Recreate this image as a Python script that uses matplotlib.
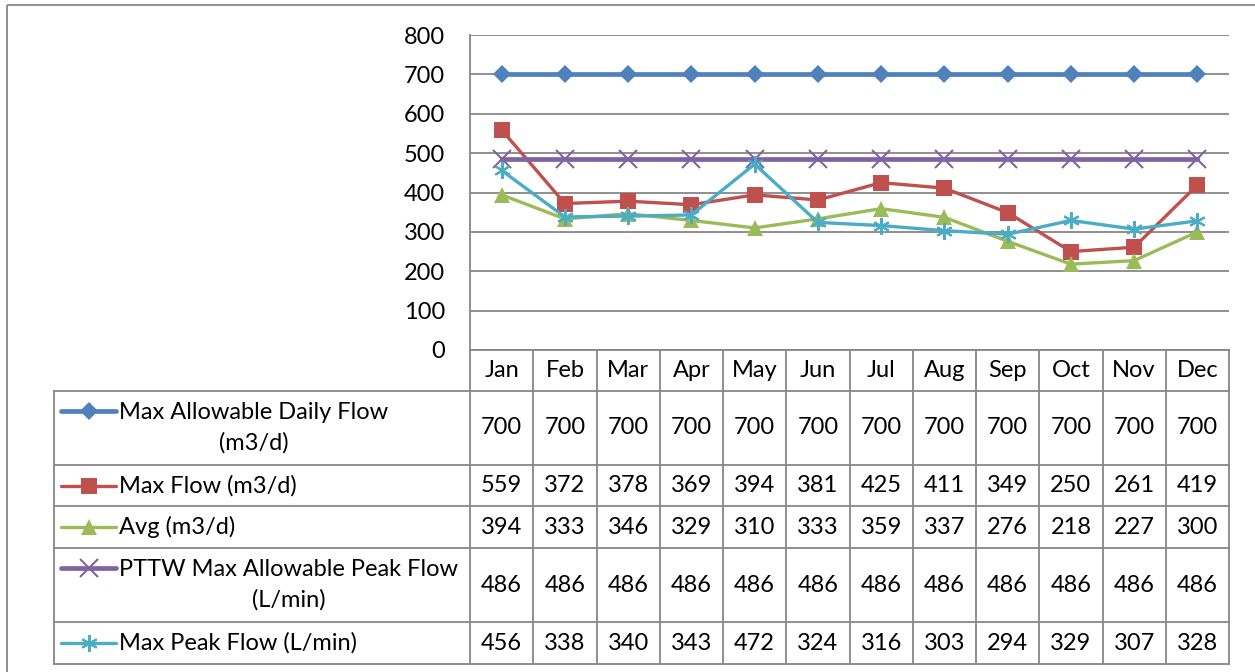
import numpy as np
import matplotlib
matplotlib.use("Agg")
import matplotlib.pyplot as plt

plt.rcParams['font.family'] = ['Lato', 'DejaVu Sans']

months = ['Jan', 'Feb', 'Mar', 'Apr', 'May', 'Jun', 'Jul', 'Aug', 'Sep', 'Oct', 'Nov', 'Dec']
max_allow_daily = [700, 700, 700, 700, 700, 700, 700, 700, 700, 700, 700, 700]
max_flow = [559, 372, 378, 369, 394, 381, 425, 411, 349, 250, 261, 419]
avg_flow = [394, 333, 346, 329, 310, 333, 359, 337, 276, 218, 227, 300]
pttw_peak = [486, 486, 486, 486, 486, 486, 486, 486, 486, 486, 486, 486]
max_peak = [456, 338, 340, 343, 472, 324, 316, 303, 294, 329, 307, 328]

series = [
    ("Max Allowable Daily Flow\n(m3/d)", max_allow_daily, '#4F81BD', 'D', 9.5, 3.4),
    ("Max Flow (m3/d)", max_flow, '#C0504D', 's', 11, 2.4),
    ("Avg (m3/d)", avg_flow, '#9BBB59', '^', 11, 2.4),
    ("PTTW Max Allowable Peak Flow\n(L/min)", pttw_peak, '#8064A2', 'x', 13, 3.4),
    ("Max Peak Flow (L/min)", max_peak, '#4BACC6', (6, 2, 0), 12, 2.4),
]

W, H = 1255, 672
grid_c = '#878787'
fs = 17

fig = plt.figure(figsize=(W / 100, H / 100), dpi=100)

# pixel layout
px_left, px_right, px_top, px_zero = 470, 1229, 35, 350
ax = fig.add_axes([px_left / W, 1 - px_zero / H, (px_right - px_left) / W, (px_zero - px_top) / H])
x = np.arange(len(months))
for label, vals, c, m, ms, lw in series:
    mew = 1.5 if m in ('x', (6, 2, 0)) else 0
    ax.plot(x, vals, color=c, marker=m, markersize=ms, linewidth=lw,
            markeredgewidth=mew, markeredgecolor=c, zorder=3)
ax.set_xlim(-0.5, 11.5)
ax.set_ylim(0, 800)
ax.set_yticks(range(0, 801, 100))
ax.yaxis.grid(True, color=grid_c, linewidth=1.3)
ax.set_axisbelow(True)
ax.set_xticks([])
ax.tick_params(axis='y', length=0, pad=18, labelsize=fs)
for s in ['top', 'right', 'bottom']:
    ax.spines[s].set_visible(False)
ax.spines['left'].set_color(grid_c)
ax.spines['left'].set_linewidth(1.3)
ax.set_facecolor('none')

# overlay in pixel coordinates for the data table and frame
ov = fig.add_axes([0, 0, 1, 1], zorder=-1)
ov.set_xlim(0, W)
ov.set_ylim(H, 0)
ov.axis('off')
ov.add_patch(plt.Rectangle((7, 5), W + 20, H + 20, fill=False, edgecolor=grid_c, linewidth=1.3))

col_w = (px_right - px_left) / len(months)
row_edges = [px_zero, 391, 465, 506, 548, 622, 664]
tbl_left = 54
lkw = dict(color=grid_c, linewidth=1.3)

# horizontal lines
ov.plot([px_left, px_right], [row_edges[0]] * 2, **lkw)
for yy in row_edges[1:]:
    ov.plot([tbl_left, px_right], [yy, yy], **lkw)
# vertical lines
for i in range(len(months) + 1):
    xx = px_left + i * col_w
    ov.plot([xx, xx], [row_edges[0], row_edges[-1]], **lkw)
ov.plot([tbl_left, tbl_left], [row_edges[1], row_edges[-1]], **lkw)

# header
for i, mth in enumerate(months):
    ov.text(px_left + (i + 0.5) * col_w, (row_edges[0] + row_edges[1]) / 2, mth,
            ha='center', va='center', fontsize=fs)

# rows
for r, (label, vals, c, m, ms, lw) in enumerate(series):
    y0, y1 = row_edges[r + 1], row_edges[r + 2]
    yc = (y0 + y1) / 2
    two = '\n' in label
    ly = y0 + 20 if two else yc
    mew = 1.5 if m in ('x', (6, 2, 0)) else 0
    ov.plot([61, 116], [ly, ly], color=c, linewidth=lw, solid_capstyle='round')
    ov.plot([88.5], [ly], color=c, marker=m, markersize=ms, markeredgewidth=mew,
            markeredgecolor=c)
    ov.text(119, yc, label, ha='left', va='center', multialignment='center',
            fontsize=fs, linespacing=1.55)
    for i, v in enumerate(vals):
        ov.text(px_left + (i + 0.5) * col_w, yc, str(v), ha='center', va='center', fontsize=fs)

fig.savefig('out.png', dpi=100)
